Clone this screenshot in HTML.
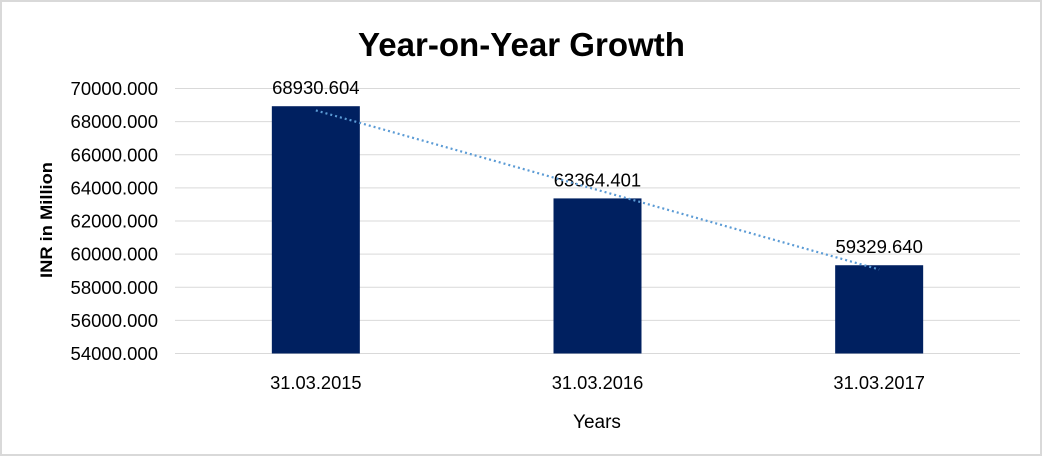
<!DOCTYPE html>
<html><head><meta charset="utf-8"><style>
body{margin:0;width:1042px;height:456px;background:#fff;overflow:hidden}
svg text{font-family:"Liberation Sans",sans-serif}
</style></head><body>
<svg width="1042" height="456">
<rect x="1" y="1" width="1040" height="454" fill="#fff" stroke="#d9d9d9" stroke-width="2"/>
<text x="358" y="56" textLength="327" lengthAdjust="spacingAndGlyphs" font-size="33" font-weight="bold" fill="#000">Year-on-Year Growth</text>
<g id="grid"></g><g id="yt"></g><g id="bars"></g><g id="xt"></g><g id="trend"></g>
<text x="0" y="0" transform="translate(52,220) rotate(-90)" text-anchor="middle" font-size="17" font-weight="bold" textLength="116" lengthAdjust="spacingAndGlyphs">INR in Million</text>
<text x="597" y="428" text-anchor="middle" font-size="19">Years</text>
</svg>
<script>
const categories=["31.03.2015","31.03.2016","31.03.2017"];
const values=[68930.604,63364.401,59329.640];
const yTicks=[54000,56000,58000,60000,62000,64000,66000,68000,70000];
const NS="http://www.w3.org/2000/svg";
const L=175,R=1020,T=88.5,B=353.5,ymin=54000,ymax=70000;
const y=v=>B-(v-ymin)/(ymax-ymin)*(B-T);
const band=(R-L)/categories.length;
const x=i=>L+band*(i+0.5);
function mk(tag,attrs,parent){const e=document.createElementNS(NS,tag);for(const k in attrs)e.setAttribute(k,attrs[k]);document.getElementById(parent).appendChild(e);return e;}
yTicks.forEach(t=>{
 const g=mk('line',{x1:L,x2:R,y1:y(t),y2:y(t),stroke:'#d9d9d9','stroke-width':1},'grid');
 
 
 const tx=mk('text',{x:158,y:y(t)+6.5,'text-anchor':'end','font-size':18.5},'yt');
 tx.textContent=t.toFixed(3);
 
 
});
const bw=88;
values.forEach((v,i)=>{
 const r=mk('rect',{x:x(i)-bw/2,y:y(v),width:bw,height:B-y(v),fill:'#002060'},'bars');
 
 
 const lb=mk('text',{x:x(i),y:y(v)-12,'text-anchor':'middle','font-size':18.5},'bars');
 lb.textContent=v.toFixed(3);
 
 
 const c=mk('text',{x:x(i),y:389,'text-anchor':'middle','font-size':18.3},'xt');
 c.textContent=categories[i];
 
 
});
const n=values.length,mx=(n-1)/2,my=values.reduce((a,b)=>a+b)/n;
let sxy=0,sxx=0;values.forEach((v,i)=>{sxy+=(i-mx)*(v-my);sxx+=(i-mx)*(i-mx);});
const sl=sxy/sxx,ic=my-sl*mx;
const tl=mk('line',{x1:x(0),y1:y(ic),x2:x(n-1),y2:y(ic+sl*(n-1)),stroke:'#5b9bd5','stroke-width':2.2,'stroke-dasharray':'2 3'},'trend');


</script>
</body></html>
